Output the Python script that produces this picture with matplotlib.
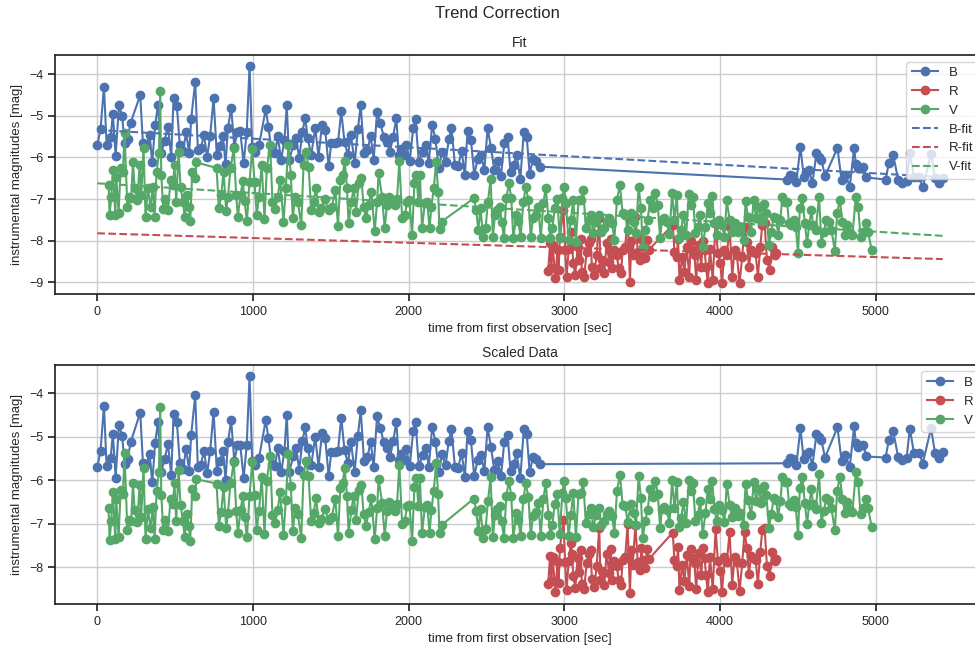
import numpy as np
import matplotlib
matplotlib.use('Agg')
import matplotlib.pyplot as plt

# instrumental magnitudes per filter, time in sec from first frame
t_B = [0, 21, 43, 60, 86, 100, 118, 139, 160, 175, 195, 214, 276, 293, 315, 336, 353, 372, 390, 410,
       432, 454, 475, 490, 511, 530, 550, 571, 590, 603, 629, 646, 665, 685, 706, 725, 747, 768, 788, 807,
       824, 839, 860, 880, 900, 918, 940, 960, 978, 995, 1013, 1039, 1082, 1099, 1120, 1142, 1159, 1181, 1202, 1217,
       1232, 1260, 1277, 1297, 1318, 1335, 1352, 1374, 1400, 1421, 1443, 1464, 1486, 1503, 1524, 1546, 1567, 1588, 1610, 1629,
       1653, 1674, 1692, 1713, 1735, 1756, 1775, 1797, 1818, 1840, 1861, 1880, 1900, 1921, 1936, 1952, 1968, 1985, 2007, 2029,
       2044, 2065, 2091, 2112, 2129, 2151, 2172, 2194, 2215, 2237, 2258, 2275, 2297, 2318, 2340, 2361, 2378, 2400, 2421, 2443,
       2464, 2486, 2507, 2529, 2550, 2571, 2593, 2614, 2635, 2654, 2676, 2693, 2717, 2739, 2758, 2777, 2799, 2820, 2844,
       4430, 4451, 4470, 4490, 4516, 4537, 4554, 4571, 4593, 4619, 4635, 4651, 4674, 4754, 4780, 4805, 4833, 4861, 4872, 4887,
       4919, 4940, 5063, 5084, 5112, 5144, 5170, 5198, 5219, 5245, 5280, 5301, 5355, 5381, 5408, 5430]
m_B = [-5.70, -5.32, -4.30, -5.69, -5.50, -4.95, -5.96, -4.75, -5.01, -5.66, -5.55, -5.17, -4.50, -5.65, -5.70, -5.46, -6.12, -5.21, -4.74, -5.90,
       -5.60, -5.26, -5.98, -4.58, -4.76, -5.70, -5.85, -5.40, -5.90, -5.08, -4.18, -5.82, -5.78, -5.46, -5.98, -5.48, -4.58, -5.94, -5.72, -5.49,
       -6.16, -5.30, -4.80, -5.74, -5.38, -5.37, -6.14, -5.38, -3.80, -5.75, -5.86, -5.70, -4.84, -5.26, -5.86, -5.90, -5.49, -6.06, -5.58, -4.74,
       -6.06, -5.70, -5.53, -6.02, -5.38, -5.05, -5.54, -5.94, -5.29, -5.98, -5.22, -5.34, -6.21, -5.66, -5.66, -5.64, -4.89, -5.64, -5.94, -5.45,
       -6.14, -5.32, -4.74, -5.90, -5.82, -5.48, -6.06, -4.90, -5.18, -5.50, -5.64, -5.86, -5.50, -5.05, -5.94, -5.80, -5.94, -5.69, -6.09, -5.29,
       -5.08, -6.10, -5.86, -5.69, -6.14, -5.21, -5.56, -6.26, -5.86, -6.12, -5.56, -5.29, -6.17, -6.20, -5.85, -6.41, -5.37, -5.58, -6.41, -6.04,
       -5.94, -6.30, -5.30, -5.77, -6.30, -6.09, -6.44, -5.66, -5.50, -6.34, -6.17, -5.93, -6.52, -5.40, -5.50, -6.39, -6.04, -6.09, -6.22,
       -6.53, -6.42, -6.45, -6.58, -5.74, -6.46, -6.34, -6.30, -6.62, -5.90, -5.98, -6.05, -6.45, -5.77, -6.54, -6.41, -6.70, -5.77, -6.16, -6.26,
       -6.22, -6.48, -6.53, -6.13, -5.94, -6.54, -6.62, -6.56, -5.90, -6.46, -6.46, -6.72, -5.92, -6.50, -6.61, -6.49]

t_R = [2896, 2908, 2916, 2925, 2941, 2956, 2963, 2971, 2994, 3005, 3014, 3028, 3042, 3050, 3057, 3070, 3085, 3095, 3104, 3112,
       3127, 3143, 3160, 3168, 3177, 3192, 3207, 3224, 3232, 3241, 3256, 3271, 3288, 3297, 3306, 3321, 3336, 3349, 3364, 3374,
       3391, 3406, 3421, 3430, 3439, 3456, 3471, 3486, 3495, 3503, 3520, 3530, 3541,
       3696, 3707, 3722, 3730, 3739, 3756, 3771, 3786, 3802, 3812, 3821, 3836, 3846, 3864, 3879, 3890, 3900, 3910, 3921, 3935,
       3953, 3971, 3986, 4001, 4013, 4028, 4043, 4061, 4078, 4093, 4108, 4125, 4142, 4157, 4172, 4185, 4200, 4211, 4228, 4243,
       4258, 4271, 4286, 4301, 4318, 4335, 4350, 4361]
m_R = [-8.72, -8.06, -8.65, -8.10, -8.90, -8.22, -8.70, -7.90, -7.25, -8.22, -8.86, -8.20, -7.78, -8.05, -8.54, -8.82, -8.14, -8.46, -7.95, -8.74,
       -8.86, -8.26, -8.06, -7.95, -8.62, -8.82, -8.34, -7.46, -8.65, -8.46, -8.78, -8.06, -8.50, -7.95, -8.66, -8.22, -8.34, -8.66, -8.78, -8.22,
       -8.14, -7.38, -8.98, -8.00, -8.34, -7.42, -8.26, -8.46, -7.95, -8.22, -8.42, -7.98, -8.22,
       -7.62, -8.26, -8.38, -7.95, -8.94, -8.38, -8.74, -8.14, -8.86, -8.00, -8.22, -8.34, -8.94, -8.10, -8.62, -8.00, -8.22, -8.62, -9.02, -8.20,
       -8.94, -7.58, -8.30, -8.54, -9.02, -8.22, -8.34, -7.66, -8.86, -8.22, -8.34, -9.02, -8.38, -7.66, -8.02, -8.62, -8.22, -8.26, -8.30, -8.86,
       -8.14, -7.62, -7.58, -8.46, -8.70, -8.14, -8.34, -8.30]

t_V = [73, 79, 90, 100, 116, 122, 137, 150, 165, 175, 193, 205, 218, 229, 240, 257, 272, 282, 297, 310,
       325, 342, 357, 368, 381, 396, 404, 411, 424, 437, 454, 471, 486, 496, 507, 522, 535, 550, 561, 576,
       589, 597, 610, 629, 636, 766, 781, 796, 811, 828, 839, 856, 877, 892, 903, 920, 935, 946, 961, 978,
       995, 1010, 1024, 1039, 1056, 1074, 1089, 1110, 1125, 1142, 1159, 1174, 1196, 1211, 1228, 1243, 1256, 1271, 1288, 1310,
       1325, 1340, 1357, 1374, 1389, 1406, 1421, 1440, 1460, 1486, 1507, 1529, 1546, 1561, 1576, 1589, 1604, 1614, 1632, 1647,
       1662, 1679, 1696, 1711, 1726, 1743, 1760, 1782, 1797, 1807, 1829, 1846, 1861, 1876, 1898, 1910, 1925, 1940, 1958, 1975,
       1990, 2005, 2022, 2037, 2050, 2062, 2072, 2086, 2104, 2119, 2134, 2146, 2161, 2177, 2189, 2198, 2211,
       2419, 2434, 2447, 2462, 2477, 2494, 2509, 2526, 2541, 2554, 2569, 2584, 2597, 2612, 2627, 2644, 2659, 2672, 2692, 2704,
       2719, 2737, 2752, 2769, 2784, 2799, 2816, 2833, 2848, 2865, 2880, 2898, 2910, 2923, 2938, 2955, 2970, 2987, 2999, 3009,
       3027, 3042, 3057, 3074, 3091, 3106, 3121, 3138, 3155, 3170, 3185, 3203, 3220, 3235, 3256, 3273, 3288, 3306, 3321, 3338,
       3357, 3374, 3391, 3406, 3428, 3445, 3460, 3477, 3492, 3503, 3520, 3535, 3550, 3567, 3585, 3600, 3615, 3627, 3643, 3658,
       3675, 3692, 3707, 3722, 3735, 3750, 3765, 3782, 3799, 3814, 3825, 3842, 3857, 3872, 3889, 3906, 3921, 3936, 3949, 3964,
       3979, 3996, 4013, 4028, 4043, 4061, 4076, 4093, 4114, 4131, 4151, 4164, 4179, 4200, 4215, 4232, 4249, 4265, 4280, 4297,
       4314, 4329, 4344, 4361, 4372, 4387, 4400, 4415, 4430, 4443, 4458, 4473, 4486, 4501, 4512, 4529, 4544, 4559, 4572, 4587,
       4597, 4614, 4636, 4651, 4666, 4683, 4700, 4715, 4737, 4752, 4769, 4786, 4801, 4816, 4833, 4850, 4872, 4887, 4902, 4919,
       4936, 4951, 4973]
m_V = [-6.66, -7.38, -6.95, -6.30, -7.38, -6.46, -7.33, -6.26, -6.34, -5.41, -7.18, -6.95, -6.98, -6.12, -6.73, -7.01, -6.18, -6.90, -5.78, -7.42,
       -6.74, -7.18, -6.70, -7.42, -6.34, -5.90, -4.41, -6.42, -7.24, -7.00, -7.26, -6.54, -6.66, -6.18, -7.06, -5.88, -6.70, -7.06, -7.42, -6.90,
       -7.18, -7.52, -6.34, -6.50, -6.12, -6.25, -7.22, -6.90, -6.34, -7.29, -6.94, -6.26, -5.78, -6.90, -7.42, -6.90, -6.57, -7.05, -7.53, -6.58,
       -5.80, -6.58, -7.38, -6.94, -6.17, -7.48, -6.26, -5.69, -7.06, -7.24, -6.94, -6.54, -7.54, -6.73, -5.69, -6.42, -7.45, -6.94, -7.06, -7.62,
       -6.18, -5.86, -6.22, -7.26, -7.06, -6.74, -7.30, -7.22, -7.00, -7.26, -7.18, -6.78, -7.64, -6.54, -6.42, -6.09, -6.74, -7.58, -7.06, -6.73,
       -7.30, -6.62, -6.49, -7.18, -7.45, -7.14, -6.82, -7.77, -7.06, -6.38, -6.94, -7.70, -7.13, -6.94, -7.10, -7.14, -7.00, -6.09, -7.46, -7.38,
       -7.06, -7.02, -7.86, -6.62, -6.42, -7.06, -6.42, -7.69, -7.10, -7.06, -7.70, -7.18, -6.74, -6.10, -6.82, -7.72, -7.54,
       -6.98, -7.26, -7.74, -7.22, -7.90, -7.70, -7.06, -6.52, -7.90, -7.38, -7.26, -7.18, -7.54, -7.94, -6.98, -6.62, -6.98, -7.94, -7.38, -7.53,
       -7.90, -7.06, -6.70, -7.02, -7.90, -7.46, -7.38, -7.18, -7.94, -7.10, -6.73, -7.46, -7.94, -7.70, -7.22, -7.00, -7.93, -6.98, -6.70, -7.10,
       -7.98, -7.50, -7.01, -8.02, -7.02, -7.02, -6.77, -7.70, -7.50, -7.38, -7.82, -7.54, -7.38, -7.78, -7.70, -7.54, -7.46, -7.58, -7.98, -7.01,
       -6.66, -7.34, -7.38, -7.74, -7.33, -7.54, -7.82, -6.70, -7.22, -8.14, -7.74, -7.50, -7.02, -7.22, -6.85, -7.14, -7.94, -7.49, -7.46, -7.54,
       -7.84, -6.85, -7.50, -6.90, -7.94, -7.73, -7.38, -7.86, -6.88, -7.14, -6.94, -7.82, -7.68, -7.38, -8.14, -7.66, -7.10, -7.34, -6.93, -7.58,
       -7.86, -7.50, -7.62, -7.90, -7.02, -7.50, -7.78, -7.58, -7.78, -7.70, -7.98, -7.04, -7.42, -7.78, -7.02, -7.46, -7.18, -7.52, -7.12, -7.33,
       -8.10, -7.78, -7.42, -7.46, -7.86, -7.50, -6.94, -7.06, -7.06, -7.58, -7.62, -7.50, -7.66, -8.30, -7.22, -6.98, -7.58, -8.06, -7.62, -7.26,
       -7.62, -7.74, -6.94, -8.06, -7.78, -7.50, -7.54, -7.74, -8.24, -7.34, -7.02, -7.54, -7.86, -7.62, -7.81, -7.86, -6.94, -7.18, -7.90, -7.78,
       -7.58, -7.78, -8.22]

# linear trend per filter: mag = zero + slope * t
bands = ['B', 'R', 'V']
fit_slope = [-2.084e-4, -1.143e-4, -2.324e-4]
fit_zero = [-5.34, -7.82, -6.62]
colors = ['#4C72B0', '#C44E52', '#55A868']

data = {'B': (np.array(t_B), np.array(m_B)),
        'R': (np.array(t_R), np.array(m_R)),
        'V': (np.array(t_V), np.array(m_V))}

plt.rcParams.update({
    'font.family': ['Liberation Sans', 'DejaVu Sans'],
    'text.color': '.15', 'axes.labelcolor': '.15',
    'xtick.color': '.15', 'ytick.color': '.15',
    'axes.edgecolor': '.15', 'axes.linewidth': 1.25,
    'axes.grid': True, 'grid.color': '.8', 'grid.linewidth': 1.0,
    'axes.axisbelow': True,
    'xtick.major.size': 5, 'ytick.major.size': 5,
    'xtick.major.width': 1.25, 'ytick.major.width': 1.25,
})

f, axs = plt.subplots(2, 1, figsize=(9.75, 6.48), dpi=100)
f.subplots_adjust(left=55/975, right=985/975, top=1-55/648, bottom=1-604/648, hspace=0.296)
f.suptitle('Trend Correction', fontsize=12, x=0.51, y=1-13/648, va='center')

t_all = np.concatenate([data[b][0] for b in bands])
t_line = np.array([t_all.min(), t_all.max()])

ax = axs[0]
for b, c in zip(bands, colors):
    t, m = data[b]
    ax.plot(t, m, '-o', color=c, lw=1.5, ms=6, label=b)
for b, c, s, z in zip(bands, colors, fit_slope, fit_zero):
    ax.plot(t_line, z + s*t_line, '--', color=c, lw=1.5, label=b+'-fit')
ax.set_title('Fit', fontsize=10)

ax = axs[1]
for b, c, s in zip(bands, colors, fit_slope):
    t, m = data[b]
    ax.plot(t, m - s*t, '-o', color=c, lw=1.5, ms=6, label=b)
ax.set_title('Scaled Data', fontsize=10)

for ax in axs:
    ax.set_xlabel('time from first observation [sec]', fontsize=9.5)
    ax.set_ylabel('instrumental magnitudes [mag]', fontsize=9.5)
    ax.tick_params(axis='both', which='major', labelsize=9)
    ax.legend(loc='upper right', fontsize=9.5)

f.savefig('out.png', dpi=100)
